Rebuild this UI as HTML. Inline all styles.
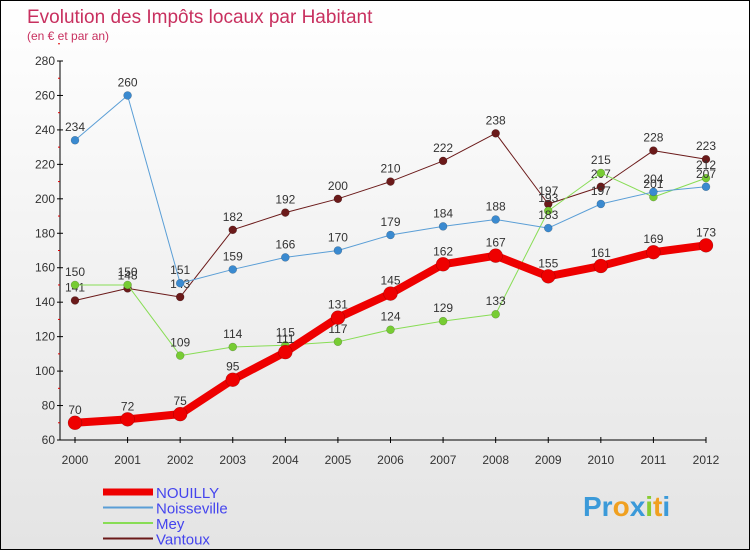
<!DOCTYPE html>
<html><head><meta charset="utf-8"><style>
body{margin:0;width:750px;height:550px;overflow:hidden;font-family:"Liberation Sans",sans-serif}
#c{width:748px;height:548px;border:1px solid #000;background:linear-gradient(#fff,#e4e4e4);position:relative}
</style></head><body>
<div id="c">
<svg id="s" width="748" height="548"></svg>
</div>
<script>
const years=["2000","2001","2002","2003","2004","2005","2006","2007","2008","2009","2010","2011","2012"];
const nouilly=[70,72,75,95,111,131,145,162,167,155,161,169,173];
const noisseville=[234,260,151,159,166,170,179,184,188,183,197,204,207];
const mey=[150,150,109,114,115,117,124,129,133,193,215,201,212];
const vantoux=[141,148,143,182,192,200,210,222,238,197,207,228,223];
const yTicks=[60,80,100,120,140,160,180,200,220,240,260,280];
const NS="http://www.w3.org/2000/svg",s=document.getElementById('s');
function X(i){return 74+i*(631/12);}
function Y(v){return 439-(v-60)*(379/220);}
function el(t,a,p){const e=document.createElementNS(NS,t);for(const k in a)e.setAttribute(k,a[k]);(p||s).appendChild(e);return e;}
let t=el('text',{x:26,y:22,fill:'#c8305f','font-size':19});t.textContent='Evolution des Impôts locaux par Habitant';

t=el('text',{x:26,y:39,fill:'#c8305f','font-size':12});t.textContent='(en € et par an)';

let ax=el('line',{x1:59,y1:Y(280),x2:59,y2:Y(60),stroke:'#000'});

ax=el('line',{x1:59,y1:Y(60),x2:X(12),y2:Y(60),stroke:'#000'});

yTicks.forEach(v=>{el('line',{x1:56,x2:62,y1:Y(v),y2:Y(v),stroke:'#000'});
 el('line',{x1:57,x2:59,y1:Y(v+10),y2:Y(v+10),stroke:'#d00'});
 const l=el('text',{x:54,y:Y(v)+4,'text-anchor':'end','font-size':12,fill:'#333'});l.textContent=v;
 });
years.forEach((y,i)=>{el('line',{x1:X(i),x2:X(i),y1:Y(60)-3,y2:Y(60)+3,stroke:'#000'});
 const l=el('text',{x:X(i),y:Y(60)+24,'text-anchor':'middle','font-size':12,fill:'#333'});l.textContent=y;
 });
function series(d,col,dot,w,r,name){const g=el('g',{});
 
 el('polyline',{points:d.map((v,i)=>X(i)+','+Y(v)).join(' '),fill:'none',stroke:col,'stroke-width':w,'stroke-linejoin':'round'},g);
 d.forEach((v,i)=>{const c=el('circle',{cx:X(i),cy:Y(v),r:r,fill:dot,stroke:'rgba(0,0,0,0.3)','stroke-width':0.5},g);
  
  const l=el('text',{x:X(i),y:Y(v)-9,'text-anchor':'middle','font-size':12,fill:'#333'},g);l.textContent=v;
  });}
series(vantoux,'#6b1a1a','#6b1a1a',1,4,'vantoux');
series(mey,'#88dd55','#77cc33',1,4,'mey');
series(noisseville,'#5a9ed6','#3a8ad0',1,4,'noisseville');
series(nouilly,'#ee0000','#ee0000',8,7,'nouilly');
const legend=[['NOUILLY','#ee0000',7],['Noisseville','#5a9ed6',2],['Mey','#88dd55',2],['Vantoux','#6b1a1a',2]];
legend.forEach((L,i)=>{const g=el('g',{});
 const y=491+i*15.5;el('line',{x1:102,x2:152,y1:y,y2:y,stroke:L[1],'stroke-width':L[2]},g);
 const tx=el('text',{x:155,y:y+6,'font-size':15,fill:'#4444ee'},g);tx.textContent=L[0];});
t=el('text',{x:582,y:515,'font-size':28,'font-weight':'bold',fill:'#f0a020'});
t.innerHTML='<tspan fill="#3b9ad9">Pr</tspan><tspan fill="#f0a020">o</tspan><tspan fill="#3b9ad9">x</tspan><tspan fill="#88cc33">i</tspan><tspan fill="#f0a020">t</tspan><tspan fill="#3b9ad9">i</tspan>';

</script>
</body></html>
